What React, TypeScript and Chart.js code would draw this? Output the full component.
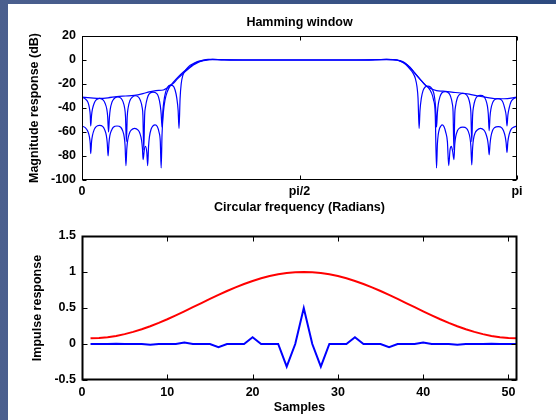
import React, { useEffect, useRef } from "react";
import { Chart, registerables } from "chart.js";

Chart.register(...registerables);

const FONT = { family: "'Liberation Sans', Arial, Helvetica, sans-serif", size: 12.5, weight: "bold" as const };

// ---------- Top panel: magnitude responses (x = fraction of pi, y = dB) ----------
const freqTicks = [0, 0.5, 1];
const freqTickLabels = ["0", "pi/2", "pi"];

const curveA: [number, number][] = [
  [0, -31], [0.02, -31.5], [0.04, -32], [0.06, -31.5], [0.08, -30.5], [0.1, -30], [0.12, -29.5], [0.14, -28],
  [0.155, -26.5], [0.17, -25.5], [0.187, -25], [0.195, -23.5], [0.202, -21.5], [0.21, -19.4], [0.22, -15.5],
  [0.233, -11], [0.245, -7.3], [0.256, -4.2], [0.267, -2], [0.279, -0.6], [0.29, 0.1], [0.3, 0.5], [0.32, 0.3],
  [0.34, 0.1], [0.37, 0], [0.5, 0], [0.63, 0], [0.66, 0.1], [0.68, 0.3], [0.7, 0.5], [0.72, 0.2], [0.731, -0.5],
  [0.742, -2.2], [0.754, -6], [0.765, -10.8], [0.777, -16], [0.788, -20.5], [0.8, -23.6], [0.815, -25.5],
  [0.83, -26], [0.85, -26.8], [0.87, -27.5], [0.89, -28.5], [0.91, -30], [0.93, -31.2], [0.95, -32.3],
  [0.97, -32.3], [1.0, -31],
];

const curveB: [number, number][] = [
  [0, -31], [0.008, -32.5], [0.014, -35.5], [0.017, -40], [0.019, -46], [0.02, -55],
  [0.022, -46], [0.024, -41], [0.028, -36], [0.032, -33.5], [0.0405, -32], [0.049, -33.5], [0.053, -36], [0.057, -41], [0.059, -47], [0.061, -60],
  [0.063, -48], [0.065, -41], [0.069, -35], [0.073, -32.5], [0.0815, -30.8], [0.09, -32], [0.094, -34.5], [0.098, -40], [0.1, -47], [0.102, -68],
  [0.104, -47], [0.106, -40], [0.11, -34], [0.114, -31.5], [0.122, -29.8], [0.13, -31], [0.134, -33.5], [0.138, -39], [0.14, -46], [0.142, -75],
  [0.144, -46], [0.146, -39], [0.15, -32], [0.154, -28.5], [0.163, -26.8], [0.172, -28], [0.176, -31], [0.18, -38], [0.182, -45], [0.184, -56],
  [0.186, -42], [0.188, -35], [0.192, -27], [0.197, -22.5], [0.203, -21], [0.209, -21.5], [0.214, -25], [0.218, -32], [0.221, -42], [0.223, -57],
  [0.2255, -32], [0.228, -20], [0.232, -12.5], [0.238, -8.5], [0.245, -5.5], [0.256, -3], [0.267, -1.2], [0.279, -0.1], [0.29, 0.5],
  [0.3, 0.6], [0.32, 0.3], [0.35, 0], [0.5, 0], [0.65, 0], [0.68, 0.3], [0.7, 0.6], [0.715, 0.4],
  [0.725, 0], [0.735, -1.5], [0.745, -4], [0.755, -8], [0.761, -11], [0.766, -15], [0.77, -22], [0.7725, -32], [0.775, -57],
  [0.777, -42], [0.78, -32], [0.784, -25.5], [0.789, -22.5], [0.795, -21.8], [0.801, -22.5], [0.806, -25], [0.81, -30], [0.813, -40], [0.815, -56],
  [0.817, -44], [0.819, -37], [0.823, -30.5], [0.827, -27.5], [0.835, -26.3], [0.843, -27.5], [0.847, -30], [0.851, -36], [0.853, -43], [0.855, -75],
  [0.857, -45], [0.859, -38], [0.863, -31.5], [0.867, -29], [0.8755, -27.8], [0.884, -29], [0.888, -31.5], [0.892, -37], [0.894, -44], [0.896, -68],
  [0.898, -46], [0.9, -39], [0.904, -33], [0.908, -30.5], [0.916, -29.5], [0.924, -30.5], [0.928, -33], [0.932, -38.5], [0.934, -45], [0.936, -59],
  [0.938, -47], [0.94, -41], [0.944, -35.5], [0.948, -33.2], [0.956, -32.2], [0.964, -33.2], [0.968, -35.5], [0.972, -40.5], [0.975, -46], [0.977, -55],
  [0.979, -46], [0.982, -40], [0.986, -35], [0.992, -32.3], [1.0, -31],
];

const curveC: [number, number][] = [
  [0, -55], [0.008, -56.5], [0.014, -60], [0.017, -64], [0.019, -70], [0.02, -78],
  [0.022, -68], [0.024, -63], [0.028, -58], [0.032, -55.7], [0.04, -54.5], [0.048, -55.5], [0.052, -58], [0.056, -63], [0.058, -69], [0.06, -80],
  [0.062, -69], [0.064, -63], [0.068, -58.5], [0.072, -56], [0.0805, -55], [0.089, -56], [0.093, -58.5], [0.097, -64], [0.099, -71], [0.101, -88],
  [0.103, -74], [0.105, -67], [0.109, -61], [0.113, -58.5], [0.121, -57], [0.129, -58.5], [0.133, -61], [0.137, -67], [0.139, -74], [0.1405, -83],
  [0.1435, -74], [0.146, -72], [0.149, -77], [0.151, -88],
  [0.153, -72], [0.155, -64], [0.159, -57.5], [0.163, -55], [0.168, -54], [0.173, -55.5], [0.177, -60], [0.18, -68], [0.182, -90],
  [0.184, -62], [0.187, -44], [0.191, -33], [0.196, -26.5], [0.202, -22], [0.21, -18.5], [0.22, -14.5], [0.233, -10], [0.245, -6.5],
  [0.256, -3.5], [0.267, -1.5], [0.279, -0.3], [0.29, 0.3], [0.3, 0.3], [0.32, 0.1], [0.35, 0], [0.5, 0], [0.65, 0], [0.68, 0.2],
  [0.7, 0.3], [0.715, 0.1], [0.728, -0.5], [0.74, -2.3], [0.752, -5.5], [0.764, -10.5], [0.776, -15.5], [0.787, -20], [0.797, -23.5],
  [0.803, -27], [0.808, -33], [0.812, -45], [0.815, -90],
  [0.817, -70], [0.819, -62], [0.822, -57], [0.825, -55], [0.828, -54], [0.832, -55.5], [0.836, -60], [0.84, -68], [0.843, -88],
  [0.846, -75], [0.849, -72], [0.852, -76], [0.855, -83],
  [0.857, -70], [0.859, -64], [0.863, -59], [0.867, -57], [0.8755, -56], [0.884, -57], [0.888, -59.5], [0.892, -65], [0.894, -72], [0.896, -87.5],
  [0.898, -73], [0.9, -66], [0.904, -60.5], [0.908, -58.5], [0.916, -57], [0.924, -58.5], [0.928, -61], [0.932, -66], [0.934, -71], [0.936, -79],
  [0.938, -70], [0.94, -64], [0.944, -58.5], [0.948, -56.5], [0.957, -55.5], [0.965, -56.5], [0.969, -59], [0.973, -64], [0.975, -69], [0.977, -77],
  [0.979, -68], [0.982, -62], [0.986, -58], [0.992, -56], [1.0, -55],
];

// ---------- Bottom panel: impulse response and window ----------
const samples = [
  1, 2, 3, 4, 5, 6, 7, 8, 9, 10, 11, 12, 13, 14, 15, 16, 17, 18, 19, 20, 21, 22, 23, 24, 25, 26,
  27, 28, 29, 30, 31, 32, 33, 34, 35, 36, 37, 38, 39, 40, 41, 42, 43, 44, 45, 46, 47, 48, 49, 50, 51,
];
const hammingWindow = [
  0.08, 0.0836, 0.0945, 0.1123, 0.1369, 0.1679, 0.2047, 0.2468, 0.2935, 0.3441, 0.3979, 0.4538, 0.5111,
  0.5689, 0.6262, 0.6821, 0.7359, 0.7865, 0.8332, 0.8753, 0.9121, 0.9431, 0.9677, 0.9855, 0.9964, 1.0,
  0.9964, 0.9855, 0.9677, 0.9431, 0.9121, 0.8753, 0.8332, 0.7865, 0.7359, 0.6821, 0.6262, 0.5689, 0.5111,
  0.4538, 0.3979, 0.3441, 0.2935, 0.2468, 0.2047, 0.1679, 0.1369, 0.1123, 0.0945, 0.0836, 0.08,
];
const impulse = [
  0, 0, 0, 0.0032, 0, 0, 0, -0.0087, 0, 0, 0, 0.0206, 0, 0, 0, -0.0434, 0, 0, 0, 0.0929, 0, 0, 0, -0.3137, 0, 0.5,
  0, -0.3137, 0, 0, 0, 0.0929, 0, 0, 0, -0.0434, 0, 0, 0, 0.0206, 0, 0, 0, -0.0087, 0, 0, 0, 0.0032, 0, 0, 0,
];

const framePlugin = (tickLen: number, lw: number) => ({
  id: "frameTicks",
  afterDatasetsDraw(chart: any) {
    const { ctx, chartArea: a, scales } = chart;
    const x0 = Math.round(a.left) + 0.5;
    const x1 = Math.round(a.right) - 0.5;
    const y0 = Math.round(a.top) + 0.5;
    const y1 = Math.round(a.bottom) - 0.5;
    ctx.save();
    ctx.strokeStyle = "#000";
    ctx.lineWidth = 1;
    ctx.beginPath();
    for (const t of scales.x.ticks) {
      const px = Math.round(scales.x.getPixelForValue(t.value)) + 0.5;
      ctx.moveTo(px, y1);
      ctx.lineTo(px, y1 - tickLen);
      ctx.moveTo(px, y0);
      ctx.lineTo(px, y0 + tickLen);
    }
    for (const t of scales.y.ticks) {
      const py = Math.round(scales.y.getPixelForValue(t.value)) + 0.5;
      ctx.moveTo(x0, py);
      ctx.lineTo(x0 + tickLen, py);
      ctx.moveTo(x1, py);
      ctx.lineTo(x1 - tickLen, py);
    }
    ctx.stroke();
    ctx.lineWidth = lw;
    ctx.strokeRect(x0, y0, x1 - x0, y1 - y0);
    ctx.restore();
  },
});

const toXY = (c: [number, number][]) => c.map(([x, y]) => ({ x, y }));

function TopChart() {
  const ref = useRef<HTMLCanvasElement>(null);
  useEffect(() => {
    const line = (c: [number, number][]) => ({
      data: toXY(c),
      borderColor: "#0000ff",
      borderWidth: 1.2,
      pointRadius: 0,
      cubicInterpolationMode: "monotone" as const,
      fill: false,
    });
    const chart = new Chart(ref.current!, {
      type: "line",
      data: { datasets: [line(curveC), line(curveB), line(curveA)] },
      options: {
        animation: false,
        responsive: false,
        devicePixelRatio: 1,
        layout: { padding: { left: 0, right: 39, top: 0, bottom: 0 } },
        plugins: {
          legend: { display: false },
          tooltip: { enabled: false },
          title: {
            display: true,
            text: "Hamming window",
            color: "#000",
            font: FONT,
            fullSize: false,
            padding: { top: 15, bottom: 6 },
          },
        },
        scales: {
          x: {
            type: "linear",
            min: 0,
            max: 1,
            grid: { display: false, drawTicks: false },
            border: { display: false },
            ticks: {
              stepSize: 0.5,
              autoSkip: false,
              maxRotation: 0,
              padding: 4.2,
              color: "#000",
              font: FONT,
              callback: (v: any) => {
                const i = freqTicks.indexOf(Number(v));
                return i >= 0 ? freqTickLabels[i] : "";
              },
            },
            title: { display: true, text: "Circular frequency (Radians)", color: "#000", font: FONT, padding: { top: 0, bottom: 4.5 } },
            afterFit: (s: any) => { s.height = 40; },
          },
          y: {
            min: -100,
            max: 20,
            grid: { display: false, drawTicks: false },
            border: { display: false },
            ticks: { stepSize: 20, padding: 6, color: "#000", font: FONT },
            title: { display: true, text: "Magnitude response (dB)", color: "#000", font: FONT, padding: { top: 27.5, bottom: 0 } },
            afterFit: (s: any) => { s.width = 82; },
          },
        },
      },
      plugins: [framePlugin(4, 1)],
    } as any);
    return () => chart.destroy();
  }, []);
  return <canvas ref={ref} width={556} height={220} style={{ position: "absolute", left: 0, top: 0 }} />;
}

function BottomChart() {
  const ref = useRef<HTMLCanvasElement>(null);
  useEffect(() => {
    const chart = new Chart(ref.current!, {
      type: "line",
      data: {
        datasets: [
          {
            data: samples.map((s, i) => ({ x: s, y: impulse[i] })),
            borderColor: "#0000ff",
            borderWidth: 2,
            pointRadius: 0,
            tension: 0,
            fill: false,
          },
          {
            data: samples.map((s, i) => ({ x: s, y: hammingWindow[i] })),
            borderColor: "#ff0000",
            borderWidth: 2,
            pointRadius: 0,
            tension: 0,
            fill: false,
          },
        ],
      },
      options: {
        animation: false,
        responsive: false,
        devicePixelRatio: 1,
        layout: { padding: { left: 0, right: 39, top: 16, bottom: 0 } },
        plugins: { legend: { display: false }, tooltip: { enabled: false } },
        scales: {
          x: {
            type: "linear",
            min: 0,
            max: 51,
            grid: { display: false, drawTicks: false },
            border: { display: false },
            ticks: { stepSize: 10, includeBounds: false, autoSkip: false, maxRotation: 0, padding: 5.5, color: "#000", font: FONT },
            title: { display: true, text: "Samples", color: "#000", font: FONT, padding: { top: 0, bottom: 4.8 } },
            afterFit: (s: any) => { s.height = 40; },
          },
          y: {
            min: -0.5,
            max: 1.5,
            grid: { display: false, drawTicks: false },
            border: { display: false },
            ticks: { stepSize: 0.5, padding: 6, color: "#000", font: FONT, callback: (v: any) => String(Number(v)) },
            title: { display: true, text: "Impulse response", color: "#000", font: FONT, padding: { top: 30.5, bottom: 0 } },
            afterFit: (s: any) => { s.width = 82; },
          },
        },
      },
      plugins: [framePlugin(5, 2)],
    } as any);
    return () => chart.destroy();
  }, []);
  return <canvas ref={ref} width={556} height={200} style={{ position: "absolute", left: 0, top: 220 }} />;
}

export default function App() {
  return (
    <div
      style={{
        position: "fixed",
        left: 0,
        top: 0,
        width: 556,
        height: 420,
        background: "linear-gradient(to right, #4b5f8e, #2d4a7f)",
        overflow: "hidden",
      }}
    >
      <div style={{ position: "absolute", left: 8, top: 4, right: 0, bottom: 0, background: "#ffffff" }} />
      <TopChart />
      <BottomChart />
    </div>
  );
}
